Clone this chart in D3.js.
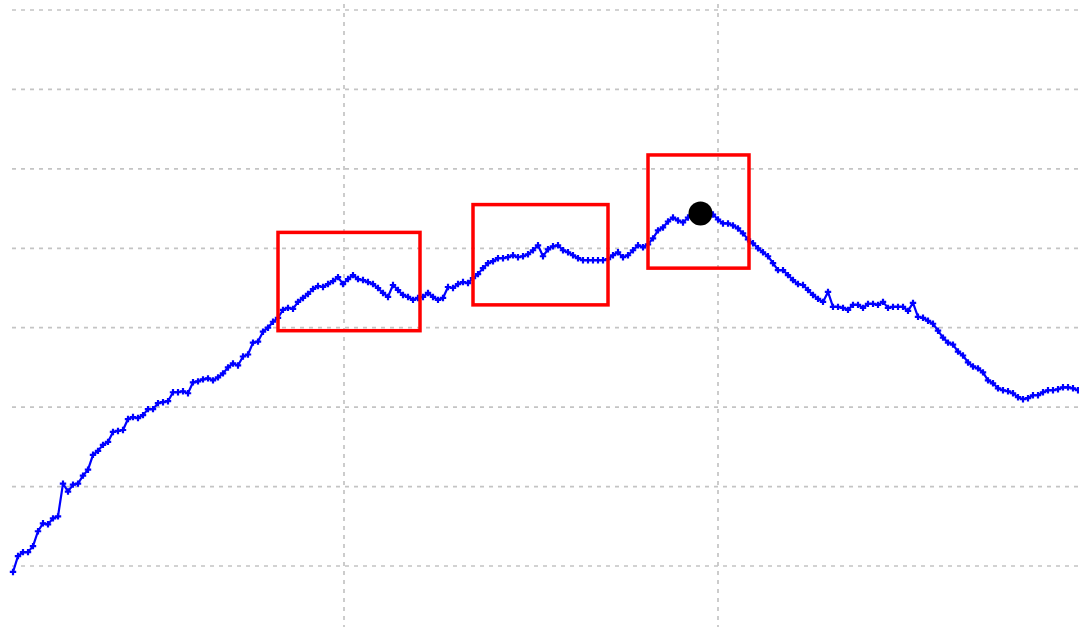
<!DOCTYPE html>
<html><head><meta charset="utf-8">
<style>html,body{margin:0;padding:0;background:#fff;overflow:hidden}</style>
<script src="https://cdn.jsdelivr.net/npm/d3@7"></script>
</head><body>
<svg id="c" width="1079" height="627"></svg>
<script>
// Signal samples (sample index = position in array)
const values = [-6,10,14,14,20,35,43,42,48,50,
83,75,82,83,91,97,112,116,122,125,
135,136,137,148,150,149,152,158,158,164,
165,166,175,175,176,174,185,186,188,189,
187,190,194,200,204,202,211,213,225,226,
236,240,246,250,258,260,259,266,270,274,
279,282,281,284,287,291,284,289,293,289,
288,286,284,280,275,271,283,278,273,271,
268,270,271,275,271,268,270,281,280,284,
286,285,290,294,300,305,307,310,310,311,
313,311,312,314,318,323,312,319,322,323,
318,316,313,310,308,308,308,308,308,309,
313,316,311,313,318,323,321,324,330,338,
341,347,351,348,346,351,353,355,356,356,
354,349,345,345,343,340,335,329,325,320,
316,312,305,298,298,293,288,284,283,278,
273,269,266,276,261,261,260,258,263,263,
260,264,264,263,266,260,261,261,261,257,
265,251,250,247,244,237,230,225,223,216,
212,205,201,199,195,187,184,179,177,176,
174,170,168,169,172,172,175,177,177,178,
180,180,179,177];

// Grid positions (data units)
const yGrid = [0, 80, 160, 240, 320, 400, 480, 560];
const xGrid = [66.2, 141];

// Highlighted windows (data units)
const winStart = [53, 92, 127];
const winEnd   = [81.4, 119, 147.2];
const winLow   = [237, 263, 300];
const winHigh  = [336, 364, 414];

// Peak marker
const peakX = [137.5];
const peakY = [355];

const svg = d3.select("#c");
const x = d3.scaleLinear().domain([0, values.length - 1]).range([13, 1078]);
const y = d3.scaleLinear().domain([0, 560]).range([566, 10]);

const gridStyle = s => s.attr("stroke", "#c4c4c4").attr("stroke-width", 1.7)
  .attr("stroke-dasharray", "4,5").attr("fill", "none");

svg.append("g").selectAll("line").data(yGrid).join("line")
  .attr("x1", 12).attr("x2", 1079)
  .attr("y1", d => y(d)).attr("y2", d => y(d))
  .call(gridStyle);

svg.append("g").selectAll("line").data(xGrid).join("line")
  .attr("x1", d => x(d)).attr("x2", d => x(d))
  .attr("y1", 4).attr("y2", 627)
  .call(gridStyle);

const pts = values.map((v, i) => [i, v]);
svg.append("path").datum(pts)
  .attr("d", d3.line().x(d => x(d[0])).y(d => y(d[1])))
  .attr("fill", "none").attr("stroke", "#0000ff").attr("stroke-width", 2.2)
  .attr("stroke-linejoin", "round");

svg.append("g").selectAll("path").data(pts).join("path")
  .attr("transform", d => `translate(${x(d[0])},${y(d[1])})`)
  .attr("d", "M-3.2,0H3.2M0,-3.2V3.2")
  .attr("stroke", "#0000ff").attr("stroke-width", 2.2).attr("fill", "none");

svg.append("g").selectAll("rect").data(winStart).join("rect")
  .attr("x", (d, i) => x(d))
  .attr("y", (d, i) => y(winHigh[i]))
  .attr("width", (d, i) => x(winEnd[i]) - x(d))
  .attr("height", (d, i) => y(winLow[i]) - y(winHigh[i]))
  .attr("fill", "none").attr("stroke", "#ff0000").attr("stroke-width", 3.5);

svg.append("g").selectAll("circle").data(peakX).join("circle")
  .attr("cx", d => x(d)).attr("cy", (d, i) => y(peakY[i]))
  .attr("r", 12).attr("fill", "#000");
</script>
</body></html>
